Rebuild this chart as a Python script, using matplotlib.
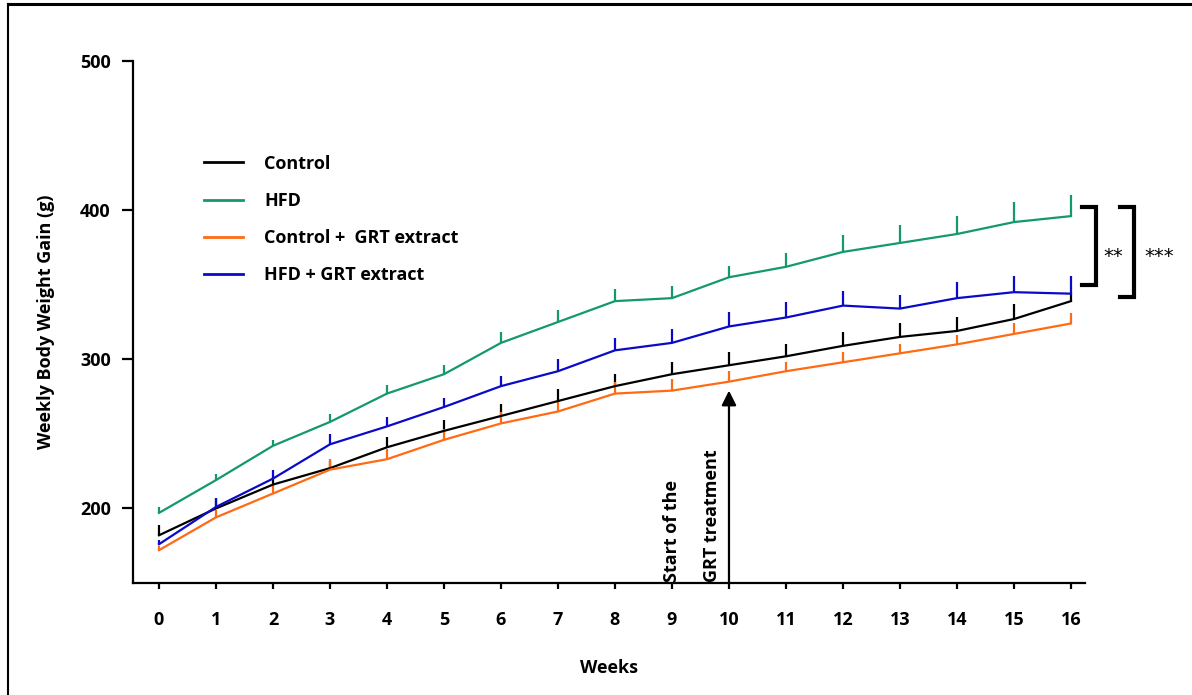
import numpy as np
import matplotlib
matplotlib.use("Agg")
import matplotlib.pyplot as plt
from matplotlib.lines import Line2D

weeks = np.arange(17)

control = [182, 200, 216, 227, 241, 252, 262, 272, 282, 290, 296, 302, 309, 315, 319, 327, 339]
control_err = [7, 6.5, 5, 5, 7, 7.5, 8, 8, 8, 8.5, 9, 8.5, 9, 9, 9.5, 10, 5]
hfd = [197, 219, 242, 258, 277, 290, 311, 325, 339, 341, 355, 362, 372, 378, 384, 392, 396]
hfd_err = [4, 4, 4, 5, 5.5, 6.5, 7, 8, 8, 8, 7.5, 9.5, 11, 12, 12, 13.5, 14]
ctrl_grt = [172, 194, 210, 226, 233, 246, 257, 265, 277, 279, 285, 292, 298, 304, 310, 317, 324]
ctrl_grt_err = [3, 5, 5.5, 7, 7, 7.5, 7.5, 8, 8, 7.5, 7, 6.5, 7, 6.5, 6, 7, 7]
hfd_grt = [176, 201, 220, 243, 255, 268, 282, 292, 306, 311, 322, 328, 336, 334, 341, 345, 344]
hfd_grt_err = [2.5, 6, 6, 7, 6.5, 6, 7, 8, 8.5, 9, 10, 10.5, 10, 9, 11, 11, 12]

labels = ["Control", "HFD", "Control +  GRT extract", "HFD + GRT extract"]
colors = ["#000000", "#13996c", "#ff6a13", "#0a0ac8"]

treatment_week = 10

plt.rcParams["font.family"] = ["Open Sans", "DejaVu Sans"]
plt.rcParams["font.weight"] = "bold"

fig = plt.figure(figsize=(11.92, 6.95), dpi=100)
ax = fig.add_axes([133 / 1192, 1 - 583 / 695, (1085 - 133) / 1192, (583 - 61) / 695])

series = [(control, control_err), (hfd, hfd_err), (ctrl_grt, ctrl_grt_err), (hfd_grt, hfd_grt_err)]
for (vals, err), lab, col in zip(series, labels, colors):
    vals = np.asarray(vals, float)
    err = np.asarray(err, float)
    # upper-only error bars, no caps
    ax.errorbar(weeks, vals, yerr=[np.zeros_like(err), err], color=col, lw=1.6,
                elinewidth=1.6, capsize=0, label=lab)

ax.set_xlim(-0.456, 16.246)
ax.set_ylim(150, 500)
ax.set_xticks(weeks)
ax.set_yticks([200, 300, 400, 500])
for s in ["top", "right"]:
    ax.spines[s].set_visible(False)
for s in ["left", "bottom"]:
    ax.spines[s].set_linewidth(1.6)
ax.tick_params(axis="y", length=8, width=1.6, pad=8, labelsize=13)
ax.tick_params(axis="x", length=4, width=1.6, pad=16, labelsize=13)
for t in ax.get_xticklabels() + ax.get_yticklabels():
    t.set_fontweight("bold")

ax.set_xlabel("Weeks", fontsize=13, fontweight="bold", labelpad=22)
ax.set_ylabel("Weekly Body Weight Gain (g)", fontsize=13, fontweight="bold", labelpad=18)

handles = [Line2D([], [], color=c, lw=2) for c in colors]
leg = ax.legend(handles, labels, loc="upper left", bbox_to_anchor=(0.058, 0.852),
                frameon=False, fontsize=13, handlelength=2.15, handletextpad=1.15,
                labelspacing=1.07)
for t in leg.get_texts():
    t.set_fontweight("bold")

# start of treatment marker
ax.annotate("", xy=(treatment_week, 279), xytext=(treatment_week, 150),
            arrowprops=dict(arrowstyle="-|>", color="black", lw=1.6,
                            mutation_scale=22, shrinkA=0, shrinkB=0))
ax.text(9.0, 151, "Start of the", rotation=90, ha="center", va="bottom",
        fontsize=13, fontweight="bold")
ax.text(9.7, 151, "GRT treatment", rotation=90, ha="center", va="bottom",
        fontsize=13, fontweight="bold")

# significance brackets at week 16
def bracket(x0, x1, y0, y1):
    ax.plot([x0, x1, x1, x0], [y0, y0, y1, y1], color="black", lw=3,
            clip_on=False, solid_joinstyle="miter")

bracket(16.19, 16.44, 402, 350)
bracket(16.86, 17.10, 402, 342)
ax.text(16.74, 369, "**", ha="center", va="center", fontsize=14,
        fontweight="normal", family="DejaVu Sans", clip_on=False)
ax.text(17.55, 369, "***", ha="center", va="center", fontsize=14,
        fontweight="normal", family="DejaVu Sans", clip_on=False)

# outer frame (left and top edges)
fig.add_artist(Line2D([8 / 1192, 8 / 1192], [0, 1 - 4 / 695],
                      transform=fig.transFigure, color="black", lw=1.5))
fig.add_artist(Line2D([8 / 1192, 1], [1 - 4 / 695, 1 - 4 / 695],
                      transform=fig.transFigure, color="black", lw=2.2))

fig.savefig("out.png", dpi=100)
